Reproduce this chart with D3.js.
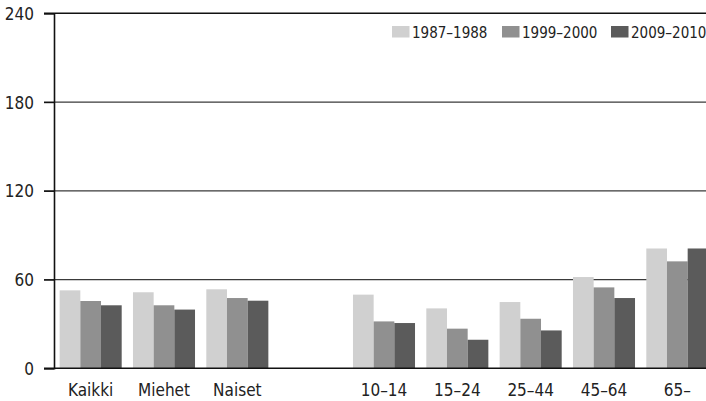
<!DOCTYPE html>
<html>
<head>
<meta charset="utf-8">
<script src="https://cdn.jsdelivr.net/npm/d3@7"></script>
<style>
  body { margin: 0; background: #fff; }
  text { font-family: "DejaVu Sans Condensed", "Liberation Sans", sans-serif; fill: #222; }
</style>
</head>
<body>
<div id="chart"></div>
<script>
// categories (one empty slot between the sex groups and the age groups)
var categories = ["Kaikki", "Miehet", "Naiset", " ", "10–14", "15–24", "25–44", "45–64", "65–"];
var series = ["1987–1988", "1999–2000", "2009–2010"];
var v1987 = [52.7, 51.4, 53.4, null, 49.8, 40.5, 44.8, 61.7, 81];
var v1999 = [45.5, 42.6, 47.5, null, 31.7, 26.8, 33.5, 54.7, 72.3];
var v2009 = [42.6, 39.7, 45.7, null, 30.6, 19.3, 25.6, 47.5, 81];
var yTicks = [0, 60, 120, 180, 240];
var colors = ["#d0d0d0", "#909090", "#5b5b5b"];

var width = 706, height = 401;
var svg = d3.select("#chart").append("svg")
    .attr("width", width)
    .attr("height", height);

var x = d3.scaleBand().domain(categories).range([54, 714])
    .paddingInner(0.154).paddingOuter(0.077);
var xs = d3.scaleBand().domain(series).range([0, x.bandwidth()]);
var y = d3.scaleLinear().domain([0, 240]).range([368.3, 13.3]);

// grid lines
svg.append("g").selectAll("line")
    .data(yTicks.filter(function (d) { return d > 0 && d < 240; }))
    .enter().append("line")
    .attr("x1", 44).attr("x2", width)
    .attr("y1", function (d) { return y(d); })
    .attr("y2", function (d) { return y(d); })
    .attr("stroke", "#3a3a3a").attr("stroke-width", 1.3);

svg.append("line")
    .attr("x1", 44).attr("x2", width)
    .attr("y1", y(240)).attr("y2", y(240))
    .attr("stroke", "#111").attr("stroke-width", 1.6);

// bars
var table = categories.map(function (c, i) {
    return {cat: c, vals: [v1987[i], v1999[i], v2009[i]]};
}).filter(function (d) { return d.vals[0] != null; });

var groups = svg.append("g").selectAll("g")
    .data(table)
    .enter().append("g")
    .attr("transform", function (d) { return "translate(" + x(d.cat) + ",0)"; });

groups.selectAll("rect")
    .data(function (d) { return d.vals.map(function (v, j) { return {s: series[j], v: v, j: j}; }); })
    .enter().append("rect")
    .attr("x", function (d) { return xs(d.s); })
    .attr("width", xs.bandwidth())
    .attr("y", function (d) { return y(d.v); })
    .attr("height", function (d) { return y(0) - y(d.v); })
    .attr("fill", function (d) { return colors[d.j]; });

// baseline
svg.append("line")
    .attr("x1", 44).attr("x2", width)
    .attr("y1", y(0)).attr("y2", y(0))
    .attr("stroke", "#111").attr("stroke-width", 1.6);

// y axis
var yAxis = svg.append("g")
    .attr("transform", "translate(54,0)")
    .call(d3.axisLeft(y).tickValues(yTicks).tickSize(10).tickPadding(10).tickFormat(d3.format("d")));
yAxis.select(".domain").attr("stroke", "#111").attr("stroke-width", 1.6);
yAxis.selectAll(".tick line").attr("stroke", "#111").attr("stroke-width", 1.3);
yAxis.selectAll("text").style("font-size", "17px").attr("fill", "#222").attr("dy", "0.36em");

// x labels
var xAxis = svg.append("g")
    .attr("transform", "translate(0," + y(0) + ")")
    .call(d3.axisBottom(x).tickSize(0).tickPadding(16));
xAxis.select(".domain").remove();
xAxis.selectAll("text").style("font-size", "17px").attr("fill", "#222");

// legend
var legendX = [392, 502, 611];
var legend = svg.append("g").selectAll("g")
    .data(series)
    .enter().append("g")
    .attr("transform", function (d, i) { return "translate(" + legendX[i] + ",26)"; });
legend.append("rect")
    .attr("width", 17.5).attr("height", 11.5)
    .attr("fill", function (d, i) { return colors[i]; });
legend.append("text")
    .attr("x", 20).attr("y", 11.5)
    .style("font-size", "15px")
    .text(function (d) { return d; });
</script>
</body>
</html>
